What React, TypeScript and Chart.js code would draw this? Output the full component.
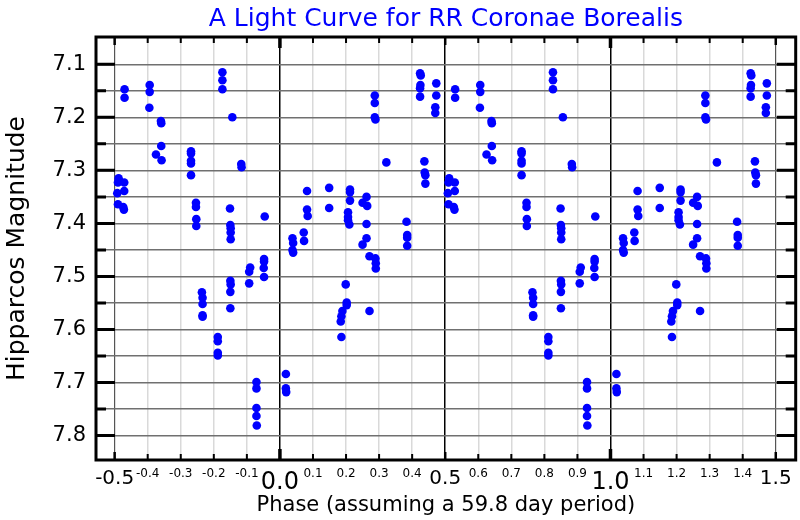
import { useEffect, useRef } from "react";
import { Chart, registerables } from "chart.js";

Chart.register(...registerables);

const FONT = "'DejaVu Sans', 'Liberation Sans', sans-serif";

const TITLE = "A Light Curve for RR Coronae Borealis";
const X_LABEL = "Phase (assuming a 59.8 day period)";
const Y_LABEL = "Hipparcos Magnitude";

// One pulsation cycle: phase (0..1) and Hipparcos magnitude
const phases = [
  0.018, 0.018, 0.019, 0.038, 0.040, 0.038, 0.040, 0.072, 0.073, 0.082,
  0.082, 0.084, 0.149, 0.149, 0.189, 0.186, 0.184, 0.186, 0.199, 0.202,
  0.202, 0.212, 0.212, 0.212, 0.206, 0.206, 0.206, 0.210, 0.250, 0.262,
  0.264, 0.262, 0.262, 0.250, 0.271, 0.289, 0.290, 0.290, 0.271, 0.287,
  0.287, 0.287, 0.289, 0.322, 0.383, 0.385, 0.385, 0.385, 0.424, 0.426,
  0.425, 0.424, 0.424, 0.473, 0.473, 0.470, 0.470, 0.437, 0.438, 0.440,
  0.440, 0.512, 0.510, 0.529, 0.508, 0.529, 0.510, 0.526, 0.528, 0.530,
  0.530, 0.606, 0.606, 0.605, 0.640, 0.641, 0.641, 0.625, 0.642, 0.731,
  0.731, 0.731, 0.731, 0.731, 0.746, 0.746, 0.747, 0.747, 0.764, 0.766,
  0.766, 0.766, 0.766, 0.812, 0.812, 0.812, 0.812, 0.826, 0.826, 0.826,
  0.856, 0.883, 0.884, 0.849, 0.850, 0.851, 0.851, 0.851, 0.954, 0.910,
  0.907, 0.907, 0.952, 0.952, 0.951, 0.952, 0.850, 0.851, 0.850, 0.850,
  0.929, 0.929, 0.929, 0.929, 0.930,
];

const magnitudes = [
  7.684, 7.711, 7.718, 7.428, 7.437, 7.450, 7.455, 7.417, 7.433, 7.339,
  7.374, 7.386, 7.333, 7.371, 7.565, 7.575, 7.585, 7.614, 7.515, 7.549,
  7.554, 7.336, 7.341, 7.357, 7.379, 7.388, 7.394, 7.402, 7.361, 7.350,
  7.367, 7.401, 7.428, 7.440, 7.462, 7.466, 7.475, 7.485, 7.565, 7.159,
  7.173, 7.200, 7.204, 7.285, 7.397, 7.422, 7.427, 7.442, 7.117, 7.121,
  7.139, 7.145, 7.161, 7.136, 7.159, 7.181, 7.192, 7.283, 7.304, 7.309,
  7.325, 7.315, 7.323, 7.323, 7.343, 7.339, 7.364, 7.369, 7.374, 7.147,
  7.163, 7.139, 7.152, 7.182, 7.207, 7.211, 7.254, 7.270, 7.281, 7.264,
  7.268, 7.282, 7.287, 7.309, 7.361, 7.369, 7.392, 7.405, 7.530, 7.540,
  7.552, 7.573, 7.576, 7.614, 7.622, 7.644, 7.649, 7.115, 7.130, 7.147,
  7.200, 7.288, 7.294, 7.372, 7.403, 7.409, 7.417, 7.430, 7.387, 7.483,
  7.491, 7.513, 7.467, 7.472, 7.484, 7.501, 7.508, 7.515, 7.529, 7.560,
  7.699, 7.711, 7.748, 7.763, 7.781,
];

// Cycles shown: the phase curve is repeated one period before and after
const cycleShifts = [-1, 0, 1];
const PHASE_SHOWN_MIN = -0.5;
const PHASE_SHOWN_MAX = 1.5;

const xTickValues = [
  -0.5, -0.4, -0.3, -0.2, -0.1, 0.0, 0.1, 0.2, 0.3, 0.4, 0.5, 0.6, 0.7, 0.8,
  0.9, 1.0, 1.1, 1.2, 1.3, 1.4, 1.5,
];
const yTickValues = [
  7.1, 7.15, 7.2, 7.25, 7.3, 7.35, 7.4, 7.45, 7.5, 7.55, 7.6, 7.65, 7.7, 7.75,
  7.8,
];

const X_MIN = -0.5564;
const X_MAX = 1.5603;
const Y_MIN = 7.0486;
const Y_MAX = 7.846;

const near = (a: number, b: number) => Math.abs(a - b) < 1e-6;
const isInteger = (v: number) => near(v, Math.round(v));
const isHalf = (v: number) => near(v * 2, Math.round(v * 2));
const isTenth = (v: number) => near(v * 10, Math.round(v * 10));

const framePlugin = {
  id: "frameTicks",
  afterDatasetsDraw(chart: any) {
    const { ctx, chartArea, scales } = chart;
    const { left, right, top, bottom } = chartArea;
    const xs = scales.x;
    const ys = scales.y;
    ctx.save();
    ctx.strokeStyle = "#000";
    ctx.lineCap = "butt";
    for (const v of xTickValues) {
      const px = xs.getPixelForValue(v);
      let len = 6;
      let w = 2;
      if (isHalf(v)) {
        len = 8;
        w = 2.5;
      }
      if (isInteger(v)) {
        len = 11;
        w = 3.5;
      }
      ctx.lineWidth = w;
      ctx.beginPath();
      ctx.moveTo(px, bottom);
      ctx.lineTo(px, bottom - len);
      ctx.moveTo(px, top);
      ctx.lineTo(px, top + len);
      ctx.stroke();
    }
    for (const v of yTickValues) {
      const py = ys.getPixelForValue(v);
      const major = isTenth(v);
      const len = major ? 19 : 10;
      ctx.lineWidth = 3;
      ctx.beginPath();
      ctx.moveTo(left, py);
      ctx.lineTo(left + len, py);
      ctx.moveTo(right, py);
      ctx.lineTo(right - len, py);
      ctx.stroke();
    }
    ctx.lineWidth = 3;
    ctx.strokeRect(left, top, right - left, bottom - top);
    ctx.restore();
  },
};

export default function App() {
  const canvasRef = useRef<HTMLCanvasElement | null>(null);

  useEffect(() => {
    document.body.style.margin = "0";
    const canvas = canvasRef.current;
    if (!canvas) return;

    const points: { x: number; y: number }[] = [];
    phases.forEach((p, i) => {
      for (const k of cycleShifts) {
        const ph = p + k;
        if (ph >= PHASE_SHOWN_MIN && ph <= PHASE_SHOWN_MAX) {
          points.push({ x: ph, y: magnitudes[i] });
        }
      }
    });

    const chart = new Chart(canvas, {
      type: "scatter",
      data: {
        datasets: [
          {
            data: points,
            backgroundColor: "#0000ff",
            borderColor: "#0000ff",
            borderWidth: 0,
            pointRadius: 4.3,
            pointHoverRadius: 4.3,
          },
        ],
      },
      options: {
        animation: false,
        responsive: false,
        events: [],
        layout: { padding: { left: 0, right: 4, top: 0, bottom: 0 } },
        plugins: {
          legend: { display: false },
          tooltip: { enabled: false },
          title: {
            display: true,
            text: TITLE,
            color: "#0000ff",
            fullSize: false,
            font: { family: FONT, size: 25, weight: "normal", lineHeight: 1.2 },
            padding: { top: 4, bottom: 3 },
          },
        },
        scales: {
          x: {
            type: "linear",
            min: X_MIN,
            max: X_MAX,
            afterBuildTicks: (s: any) => {
              s.ticks = xTickValues.map((v) => ({ value: v }));
            },
            afterFit: (s: any) => {
              s.height = 60;
            },
            border: { display: false },
            grid: {
              drawTicks: false,
              color: (c: any) => {
                const v = c.tick ? c.tick.value : 0;
                if (near(v, -0.5) || near(v, 1.5)) return "#555555";
                if (isHalf(v)) return "#000000";
                return "#d9d9d9";
              },
              lineWidth: (c: any) => {
                const v = c.tick ? c.tick.value : 0;
                if (near(v, -0.5) || near(v, 1.5)) return 1.2;
                return 1.5;
              },
            },
            ticks: {
              autoSkip: false,
              maxRotation: 0,
              minRotation: 0,
              padding: 7,
              color: "#000",
              callback: (v: any) => Number(v).toFixed(1),
              font: (c: any) => {
                const v = c.tick ? c.tick.value : 0;
                if (isInteger(v)) return { family: FONT, size: 24, lineHeight: 1.3 };
                if (isHalf(v)) return { family: FONT, size: 20, lineHeight: 1.2 };
                return { family: FONT, size: 12, lineHeight: 1.2 };
              },
            },
            title: {
              display: true,
              text: X_LABEL,
              color: "#000",
              font: { family: FONT, size: 21, lineHeight: 1.2 },
              padding: { top: 0, bottom: 1.5 },
            },
          },
          y: {
            type: "linear",
            reverse: true,
            min: Y_MIN,
            max: Y_MAX,
            afterBuildTicks: (s: any) => {
              s.ticks = yTickValues.map((v) => ({ value: v }));
            },
            afterFit: (s: any) => {
              s.width = 96;
            },
            border: { display: false },
            grid: {
              drawTicks: false,
              color: "#707070",
              lineWidth: 1.4,
            },
            ticks: {
              autoSkip: false,
              padding: 10,
              color: "#000",
              font: { family: FONT, size: 21 },
              callback: (v: any) => (isTenth(Number(v)) ? Number(v).toFixed(1) : ""),
            },
            title: {
              display: true,
              text: Y_LABEL,
              color: "#000",
              font: { family: FONT, size: 25, lineHeight: 1.2 },
              padding: { top: 2, bottom: 0 },
            },
          },
        },
      },
      plugins: [framePlugin],
    });

    return () => {
      chart.destroy();
    };
  }, []);

  return (
    <div style={{ width: 800, height: 520 }}>
      <canvas ref={canvasRef} width={800} height={520} style={{ display: "block" }} />
    </div>
  );
}
